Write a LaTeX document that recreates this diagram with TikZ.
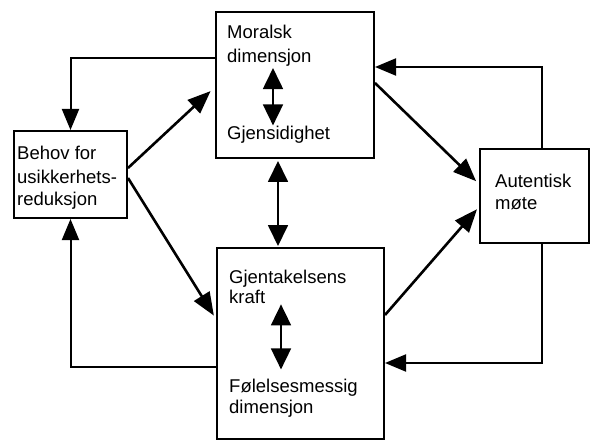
\documentclass[tikz,border=0pt]{standalone}
\usepackage{fontspec}
\setmainfont{Liberation Sans}
\usetikzlibrary{arrows.meta}
\tikzset{
  box/.style={draw, line width=2pt, anchor=north west, inner sep=0pt},
  txt/.style={anchor=base west, inner sep=1pt, font=\fontsize{18.5}{22}\selectfont},
  conn/.style={line width=2pt, -{Triangle[length=21pt,width=17pt]}},
  diag/.style={line width=2.6pt, -{Triangle[length=23pt,width=18pt]}},
  dbl/.style={line width=1.8pt, {Triangle[length=21pt,width=20pt]}-{Triangle[length=21pt,width=20pt]}},
}
\begin{document}
\begin{tikzpicture}[x=1pt,y=-1pt]
\useasboundingbox (0,0) rectangle (592,441);
% boxes
\node[box, minimum width=158pt, minimum height=146pt] (top) at (215,11) {};
\node[box, minimum width=113pt, minimum height=87pt] (left) at (13,130) {};
\node[box, minimum width=109pt, minimum height=94pt] (right) at (479,148) {};
\node[box, minimum width=167pt, minimum height=191pt] (bot) at (216,247) {};
% texts
\node[txt] (mor1) at (226,39) {Moralsk};
\node[txt] (mor2) at (226,63) {dimensjon};
\node[txt] (gje) at (226,140) {Gjensidighet};
\node[txt] (beh1) at (16,160) {Behov for};
\node[txt] (beh2) at (16,183) {usikkerhets-};
\node[txt] (beh3) at (16,205) {reduksjon};
\node[txt] (aut1) at (494,188) {Autentisk};
\node[txt] (aut2) at (494,210) {møte};
\node[txt] (gjt1) at (228,283) {Gjentakelsens};
\node[txt] (gjt2) at (228,303) {kraft};
\node[txt] (fol1) at (228,392) {Følelsesmessig};
\node[txt] (fol2) at (228,413) {dimensjon};
% inner double arrows
\draw[dbl] (mor2.south -| 273,0) -- (gje.north -| 273,0);
\draw[dbl, shorten >=8pt] (gjt2.south -| 281,0) -- (fol1.north -| 281,0);
% between boxes
\draw[dbl, shorten <=2pt, shorten >=1pt] (top.south -| 278,0) -- (bot.north -| 278,0);
% connectors
\draw[conn] (top.west |- 0,58) -| (left.north);
\draw[conn] (bot.west |- 0,367) -| (left.south);
\draw[conn] (right.north -| 542,0) |- (top.east |- 0,67);
\draw[conn] (right.south -| 542,0) |- (bot.east |- 0,363);
\draw[diag, shorten >=6pt] (left.east |- 0,168) -- (top.west |- 0,87);
\draw[diag, shorten >=4pt] (left.east |- 0,178) -- (bot.west |- 0,319);
\draw[diag, shorten >=4pt] (top.east |- 0,83) -- (right.west |- 0,184);
\draw[diag, shorten >=3pt] (bot.east |- 0,315) -- (right.west |- 0,207);
\end{tikzpicture}
\end{document}
